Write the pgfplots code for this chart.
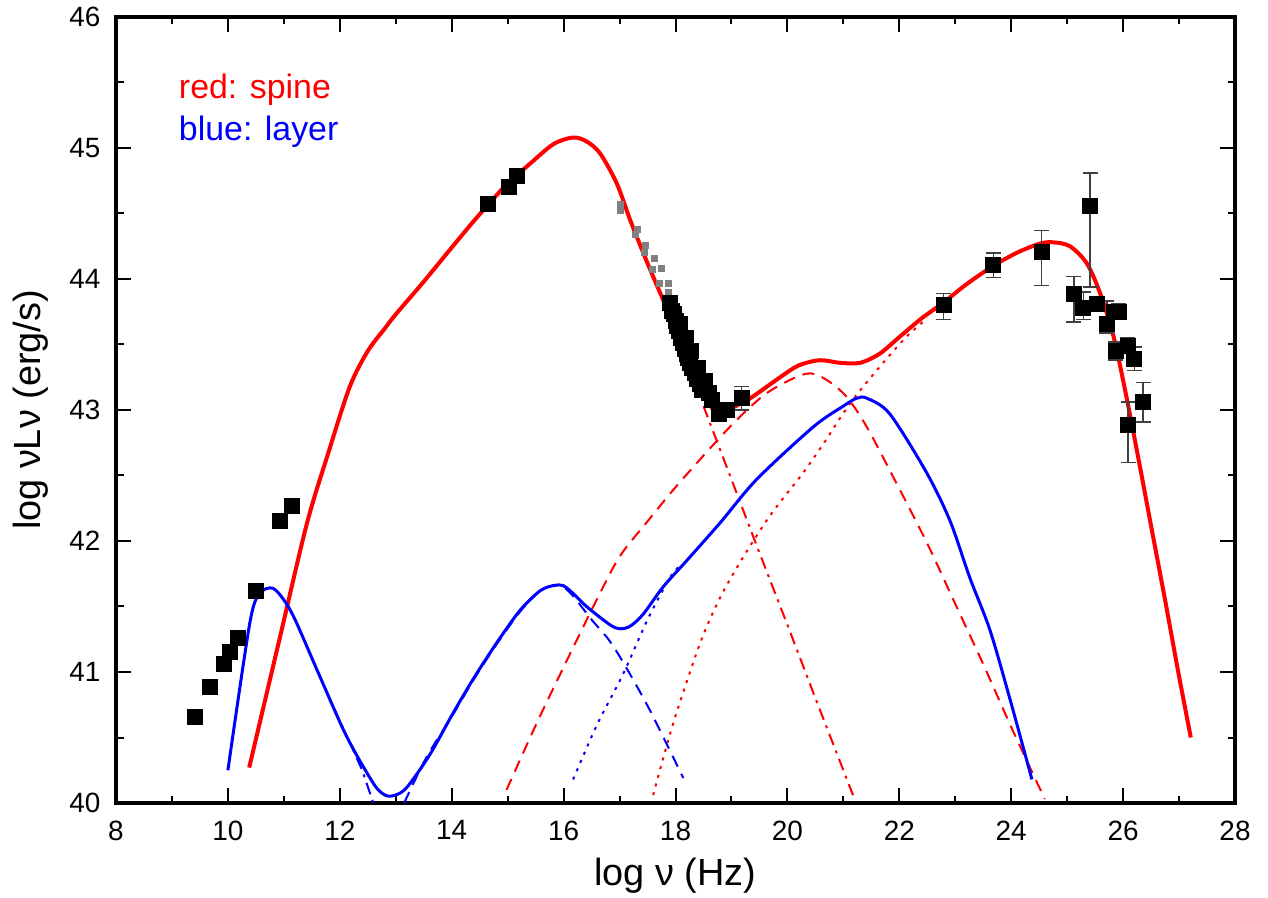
\documentclass[border=0pt]{standalone}
\usepackage{fontspec}
\setmainfont{Liberation Sans}
\usepackage{pgfplots}
\pgfplotsset{compat=1.18}
\begin{document}
\begin{tikzpicture}
\begin{axis}[name=ax,
  scale only axis, width=559.5bp, height=393bp,
  xmin=8, xmax=28, ymin=40, ymax=46,
  xtick={8,10,...,28}, ytick={40,41,...,46},
  minor x tick num=1, minor y tick num=1,
  tick align=inside,
  major tick length=7.5bp, minor tick length=3.75bp,
  axis line style={line width=1.6bp},
  every tick/.style={line width=1bp, black},
  xticklabel pos=bottom, yticklabel pos=left,
  /pgf/number format/assume math mode=true,
  tick label style={font=\fontsize{14}{14}\selectfont},
  xticklabel style={yshift=-5.3bp},
  yticklabel style={xshift=-4.3bp},
  xlabel={log ν (Hz)}, ylabel={log νLν (erg/s)},
  label style={font=\fontsize{19}{19}\selectfont},
  xlabel style={at={(axis description cs:0.5,-0.0929)}, anchor=center},
  ylabel style={at={(axis description cs:-0.076,0.5)}, anchor=center},
  clip=true,
]
% ---- red spine total
\addplot[red, line width=2bp, smooth] table {
10.38 40.27
10.9 41.21
11.41 42.13
11.8 42.68
12.18 43.18
12.5 43.45
12.8 43.62
13.0 43.73
13.5 43.98
14.0 44.24
14.39 44.44
14.7 44.59
15.0 44.73
15.4 44.88
15.82 45.03
16.17 45.08
16.41 45.05
16.65 44.96
16.95 44.73
17.19 44.45
17.5 44.12
17.78 43.84
18.1 43.52
18.4 43.22
18.68 43.00
18.9 43.00
19.3 43.08
19.87 43.25
20.2 43.34
20.58 43.38
20.94 43.36
21.3 43.36
21.65 43.43
22.01 43.56
22.4 43.70
22.79 43.82
23.2 43.96
23.68 44.10
24.1 44.20
24.51 44.27
24.75 44.28
25.05 44.25
25.35 44.12
25.59 43.89
25.83 43.56
26.06 43.10
26.3 42.57
26.48 42.16
26.75 41.55
26.99 40.99
27.21 40.50
};
% ---- red SSC (dashed)
\addplot[red, line width=1bp, smooth, dash pattern=on 6bp off 4bp] table {
14.98 40.10
15.52 40.61
16.06 41.09
16.59 41.55
17.0 41.88
17.5 42.15
18.08 42.45
18.97 42.87
19.57 43.11
20.05 43.23
20.40 43.28
20.70 43.23
21.06 43.10
21.42 42.87
21.89 42.49
22.5 41.98
23.0 41.52
23.5 41.06
24.0 40.58
24.6 40.03
};
% ---- red EC (dotted)
\addplot[red, line width=1bp, smooth, dash pattern=on 1.5bp off 3bp] table {
17.60 40.06
17.96 40.61
18.44 41.22
18.80 41.57
19.2 41.87
19.7 42.20
20.28 42.52
20.64 42.74
21.12 43.05
21.65 43.33
22.13 43.56
22.5 43.70
};
% ---- red synchrotron tail (dash-dot)
\addplot[red, line width=1bp, dash pattern=on 6bp off 3bp on 1.5bp off 3bp] table {
18.5 43.03
19.0 42.47
19.5 41.91
20.0 41.36
20.5 40.80
21.2 40.03
};
% ---- blue layer total
\addplot[blue, line width=1.5bp, smooth] table {
10.0 40.25
10.39 41.37
10.57 41.60
10.80 41.64
11.0 41.55
11.2 41.40
11.65 40.96
12.12 40.51
12.6 40.15
12.81 40.06
12.99 40.06
13.2 40.12
13.61 40.37
14.03 40.69
14.39 40.95
14.8 41.22
15.22 41.47
15.58 41.62
15.82 41.66
15.99 41.66
16.17 41.60
16.41 41.50
16.83 41.36
17.01 41.33
17.19 41.35
17.42 41.44
17.78 41.65
18.2 41.85
18.8 42.14
19.45 42.47
20.46 42.87
21.0 43.03
21.24 43.09
21.42 43.09
21.83 42.97
22.49 42.52
22.91 42.15
23.26 41.72
23.62 41.32
23.98 40.79
24.37 40.18
};
% ---- blue sync tail (dash-dot)
\addplot[blue, line width=1bp, dash pattern=on 6bp off 3bp on 1.5bp off 3bp] table {
11.9 40.72
12.2 40.44
12.4 40.25
12.6 40.00
};
% ---- blue dashed
\addplot[blue, line width=1bp, smooth, dash pattern=on 6bp off 4bp] table {
13.15 40.00
13.55 40.35
14.03 40.68
14.39 40.94
14.8 41.21
15.22 41.46
15.58 41.62
15.82 41.66
15.99 41.65
16.17 41.58
16.5 41.40
16.8 41.25
17.07 41.07
17.54 40.71
18.14 40.19
};
% ---- blue dotted
\addplot[blue, line width=1bp, smooth, dash pattern=on 1.5bp off 3bp] table {
16.17 40.18
16.6 40.60
17.07 40.99
17.5 41.40
17.9 41.72
18.1 41.82
};
% ---- grey X-ray points
\addplot[only marks, mark=square*, mark size=1.5bp, color=gray, mark options={fill=gray}] table {
17.01 44.57
17.01 44.52
17.31 44.38
17.28 44.34
17.47 44.26
17.44 44.20
17.62 44.16
17.59 44.07
17.74 44.08
17.72 43.97
17.88 43.97
17.88 43.90
};
% ---- black data points (no error bars)
\addplot[only marks, mark=square*, mark size=3.75bp, black] table {
9.41 40.66
9.68 40.89
9.93 41.06
10.03 41.15
10.17 41.26
10.93 42.15
11.14 42.27
14.64 44.57
15.03 44.70
15.16 44.79
17.90 43.82
17.93 43.76
17.97 43.73
18.00 43.68
18.03 43.64
18.06 43.60
18.08 43.66
18.10 43.55
18.13 43.51
18.16 43.47
18.18 43.55
18.20 43.43
18.23 43.40
18.26 43.36
18.28 43.45
18.30 43.32
18.34 43.28
18.38 43.24
18.40 43.32
18.44 43.20
18.48 43.15
18.52 43.22
18.59 43.13
18.65 43.08
18.77 42.97
18.92 43.00
};
% ---- black data points with error bars
\addplot[only marks, mark=square*, mark size=3.75bp, black,
  error bars/.cd, y dir=both, y explicit,
  error bar style={line width=0.8bp, black!75},
  error mark options={rotate=90, mark size=3.75bp, line width=0.8bp, black!75}]
  table[x=x, y=y, y error plus=ep, y error minus=em] {
x y ep em
10.50 41.62 0.05 0.05
19.18 43.09 0.09 0.09
22.79 43.80 0.09 0.11
23.68 44.11 0.09 0.10
24.54 44.21 0.16 0.26
25.12 43.89 0.13 0.22
25.29 43.78 0.12 0.09
25.41 44.56 0.25 0.62
25.53 43.81 0.05 0.05
25.71 43.66 0.17 0.07
25.83 43.75 0.05 0.05
25.92 43.75 0.06 0.06
25.87 43.45 0.07 0.07
26.08 43.49 0.06 0.06
26.20 43.39 0.09 0.09
26.36 43.06 0.15 0.15
26.09 42.89 0.17 0.29
};
\node[anchor=base west, text=red, font=\fontsize{17}{17}\selectfont] at (axis cs:9.0,45.38) {red: spine};
\node[anchor=base west, text=blue, font=\fontsize{17}{17}\selectfont] at (axis cs:9.0,45.06) {blue: layer};
\end{axis}
\pgfresetboundingbox
\path[use as bounding box] ([xshift=-58bp,yshift=-47.5bp]ax.south west) rectangle ([xshift=16.5bp,yshift=8.5bp]ax.north east);
\end{tikzpicture}
\end{document}
